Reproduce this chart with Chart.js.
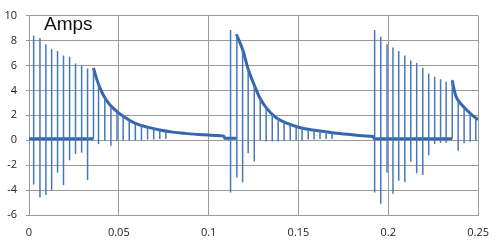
<!DOCTYPE html>
<html>
<head>
<meta charset="utf-8">
<script src="https://cdn.jsdelivr.net/npm/chart.js@4.4.1/dist/chart.umd.min.js"></script>
<style>
  html, body { margin: 0; padding: 0; background: #fff; }
  #chart { display: block; }
</style>
</head>
<body>
<canvas id="chart" width="500" height="243"></canvas>
<script>
// current trace: the smooth envelope (baseline + decays), null breaks the line
const envX = [
  0, 0.0358, 0.03585,
  0.0359, 0.0375, 0.0395, 0.0422, 0.0456, 0.049, 0.0543, 0.0592, 0.066, 0.0728, 0.08, 0.0867, 0.095, 0.1037, 0.1085, 0.109, 0.1153, 0.11535,
  0.1154, 0.1191, 0.1218, 0.1256, 0.1283, 0.1321, 0.1376, 0.1439, 0.1506, 0.16, 0.17, 0.18, 0.1876, 0.1915, 0.1922, 0.2355, 0.23555,
  0.2356, 0.2362, 0.2376, 0.2394, 0.2431, 0.2468, 0.25
];
const envY = [
  0.12, 0.12, null,
  5.8, 5.0, 4.2, 3.4, 2.75, 2.3, 1.75, 1.35, 1.05, 0.82, 0.65, 0.55, 0.46, 0.38, 0.33, 0.15, 0.15, null,
  8.5, 7.2, 5.8, 4.35, 3.45, 2.6, 1.8, 1.35, 1.02, 0.78, 0.58, 0.44, 0.34, 0.3, 0.12, 0.12, null,
  4.8, 4.35, 3.55, 3.1, 2.5, 2.0, 1.65
];

// switching spikes: x position, top and bottom of each vertical stroke
const spikeX = [
  0.0026, 0.0061, 0.0094, 0.0126, 0.0159, 0.0192, 0.0226, 0.0259, 0.0293, 0.0326, 0.0359,
  0.0387, 0.0422, 0.0456, 0.049, 0.0524, 0.0558, 0.0592, 0.0626, 0.066, 0.0694, 0.0728, 0.0762,
  0.1122, 0.1157, 0.1189, 0.122, 0.1254, 0.1287, 0.132, 0.1354, 0.1387, 0.142, 0.1454, 0.1487, 0.152, 0.1554, 0.1587, 0.162, 0.1654, 0.1687,
  0.1924, 0.1958, 0.1993, 0.2026, 0.2058, 0.2092, 0.2125, 0.2158, 0.2192, 0.2225, 0.2258, 0.2291, 0.2322, 0.2356,
  0.2389, 0.2422, 0.2456, 0.2487
];
const spikeHi = [
  8.4, 8.2, 7.7, 7.3, 7.15, 6.8, 6.7, 6.15, 6.0, 5.75, 5.8,
  4.5, 3.4, 2.75, 2.3, 1.95, 1.6, 1.35, 1.18, 1.05, 0.92, 0.82, 0.74,
  8.85, 8.5, 7.25, 5.75, 4.4, 3.35, 2.62, 2.1, 1.75, 1.5, 1.3, 1.12, 1.0, 0.9, 0.82, 0.74, 0.68, 0.62,
  8.85, 8.3, 7.7, 7.45, 7.15, 6.8, 6.4, 6.2, 5.8, 5.35, 5.1, 4.9, 4.7, 4.85,
  3.2, 2.6, 2.15, 1.8
];
const spikeLo = [
  -3.55, -4.6, -4.4, -4.0, -2.6, -3.6, -1.6, -1.1, -1.0, -3.2, 0.1,
  -0.3, -0.05, -0.45, -0.05, 0, 0, 0, 0, 0.05, 0.05, 0.1, 0.1,
  -4.2, -3.0, -3.4, -1.05, -1.7, 0, -0.1, -0.1, -0.1, -0.05, 0, 0, 0, 0.05, 0.05, 0.1, 0.1, 0.1,
  -4.2, -5.1, -2.6, -4.3, -3.25, -3.35, -1.7, -2.65, -2.8, -1.2, -0.3, -0.2, -0.2, 0.1,
  -0.85, -0.25, -0.1, -0.05
];

const xTickLabels = ['0', '0.05', '0.1', '0.15', '0.2', '0.25'];
const yTickLabels = ['-6', '-4', '-2', '0', '2', '4', '6', '8', '10'];
const unitLabel = 'Amps';

const envPoints = envX.map((x, i) => ({ x: x, y: envY[i] }));
const spikePoints = [];
spikeX.forEach((x, i) => {
    spikePoints.push({ x: x, y: spikeHi[i] });
    spikePoints.push({ x: x, y: spikeLo[i] });
    spikePoints.push({ x: x, y: null });
});

const unitText = {
    id: 'unitText',
    afterDatasetsDraw(chart) {
        const ctx = chart.ctx;
        ctx.save();
        ctx.font = '19px "Liberation Sans", Arial, sans-serif';
        ctx.fillStyle = '#111';
        ctx.textBaseline = 'alphabetic';
        ctx.fillText(unitLabel, 44, 30);
        ctx.restore();
    }
};

const gridColor = '#9a9a9a';
const tickFont = { family: '"Open Sans", sans-serif', size: 11 };

new Chart(document.getElementById('chart'), {
    type: 'line',
    data: {
        datasets: [{
            data: spikePoints,
            borderColor: '#4577bd',
            borderWidth: 1.5,
            pointRadius: 0,
            tension: 0,
            spanGaps: false
        }, {
            data: envPoints,
            borderColor: '#3567ae',
            borderWidth: 3,
            pointRadius: 0,
            cubicInterpolationMode: 'monotone',
            spanGaps: false
        }]
    },
    options: {
        responsive: false,
        animation: false,
        layout: { padding: { left: 0, right: 21, top: 11, bottom: 0 } },
        plugins: { legend: { display: false }, tooltip: { enabled: false } },
        scales: {
            x: {
                type: 'linear',
                min: 0,
                max: 0.25,
                afterFit: s => { s.height = 28; },
                grid: { color: gridColor, drawTicks: false },
                border: { color: gridColor },
                ticks: {
                    stepSize: 0.05,
                    padding: 11,
                    maxRotation: 0,
                    color: '#222',
                    font: tickFont,
                    callback: (v, i) => xTickLabels[i]
                }
            },
            y: {
                min: -6,
                max: 10,
                afterFit: s => { s.width = 29; },
                grid: { color: gridColor, tickLength: 3 },
                border: { color: gridColor },
                ticks: {
                    stepSize: 2,
                    padding: 9,
                    color: '#222',
                    font: tickFont,
                    callback: (v, i) => yTickLabels[i]
                }
            }
        }
    },
    plugins: [unitText]
});
</script>
</body>
</html>
